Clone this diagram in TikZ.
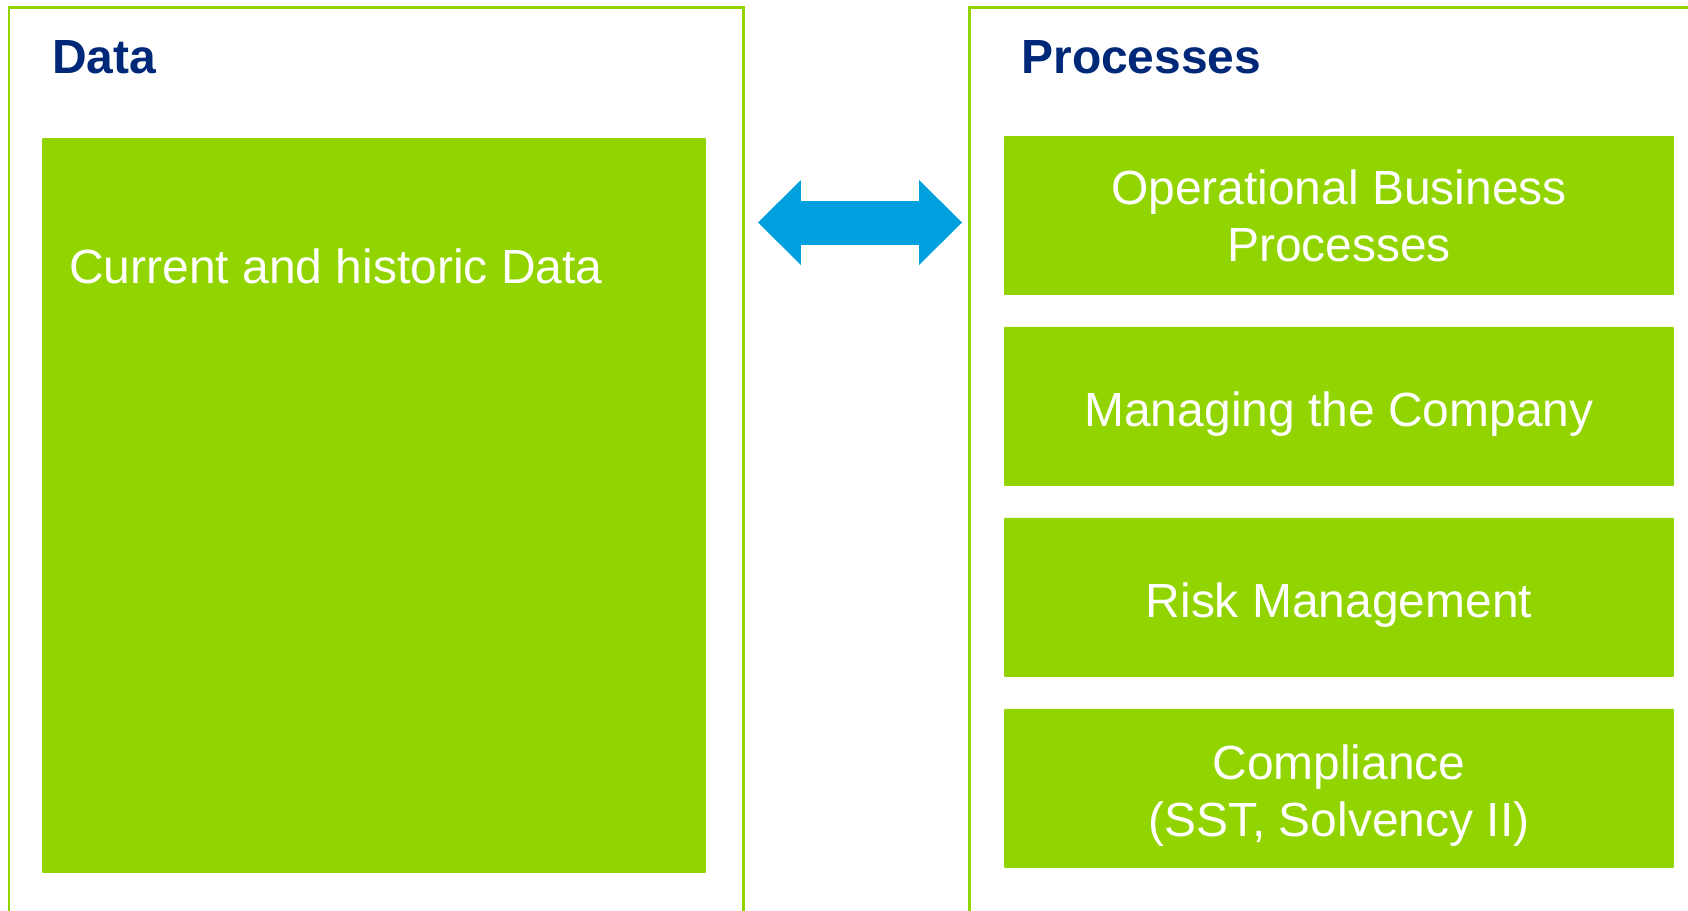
\documentclass[tikz,border=0pt]{standalone}
\usepackage{fontspec}
\setmainfont{Liberation Sans}
\usetikzlibrary{arrows.meta}
\usetikzlibrary{positioning}
\definecolor{leafgreen}{RGB}{146,212,0}
\definecolor{titlenavy}{RGB}{0,40,120}
\definecolor{linkblue}{RGB}{0,160,222}

\begin{document}
\begin{tikzpicture}[x=0.02cm, y=-0.02cm,
    panelframe/.style={leafgreen, line width=0.06cm},
    paneltitle/.style={anchor=base west, inner sep=0pt, text=titlenavy, font=\bfseries\fontsize{27.3}{32.4}\selectfont},
    greenbox/.style={fill=leafgreen, inner sep=0pt, outer sep=0pt, rounded corners=0.5pt},
    boxtext/.style={text=white, font=\fontsize{27.3}{32.4}\selectfont},
    procbox/.style={greenbox, boxtext, align=center, minimum width=13.4cm, minimum height=3.18cm},
    lowtext/.style={text height=1.0cm},
    bigarrow/.style={linkblue, line width=0.88cm,
      {Triangle[length=0.86cm, width=1.7cm, line width=0pt]}-{Triangle[length=0.86cm, width=1.7cm, line width=0pt]}}]
    \clip (0,0) rectangle (1688,910);
    \useasboundingbox (0,0) rectangle (1688,910);
    % two open panels
    \draw[panelframe] (9,940) |- (743,7) -- (743,940);
    \draw[panelframe] (969,940) |- (1720,7);
    \node[paneltitle] (datatitle) at (52,73) {Data};
    \node[paneltitle] (proctitle) at (1021,73) {Processes};
    % data side
    \node[greenbox, minimum width=13.28cm, minimum height=14.7cm] (datafill) at (374,505.5) {};
    \node[boxtext, anchor=base west, inner sep=0pt] (datatext) at (69,283) {Current and historic Data};
    % process side
    \node[procbox] (operations) at (1339,215.5) {Operational Business\\Processes};
    \node[procbox, lowtext, below=0.64cm of operations] (managing) {Managing the Company};
    \node[procbox, lowtext, below=0.64cm of managing] (risk) {Risk Management};
    \node[procbox, text height=2.12cm, below=0.64cm of risk] (compliance) {Compliance\\(SST, Solvency II)};
    % link between data and processes
    \coordinate (arrowleft) at (758,222.5);
    \coordinate (arrowright) at (962,222.5);
    \draw[bigarrow] (arrowleft) -- (arrowright);
\end{tikzpicture}
\end{document}
